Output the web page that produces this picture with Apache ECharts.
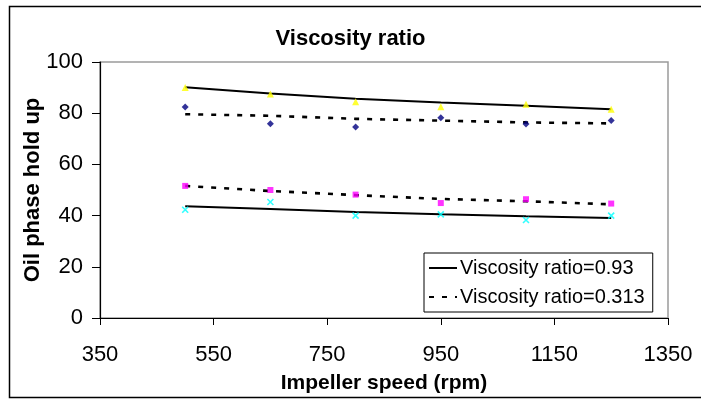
<!DOCTYPE html>
<html>
<head>
<meta charset="utf-8">
<script src="https://cdn.jsdelivr.net/npm/echarts@6/dist/echarts.min.js"></script>
<style>
  html, body { margin: 0; padding: 0; background: #fff; }
  #chart { width: 701px; height: 400px; }
</style>
</head>
<body>
<div id="chart"></div>
<script>
// impeller speeds (rpm)
const speeds = [500, 650, 800, 950, 1100, 1250];

// measured oil phase hold up
const ratio093High = [90, 87.5, 84.5, 82.5, 83.5, 81.5];   // yellow triangles
const ratio0313High = [82.4, 75.9, 74.6, 78.2, 75.8, 77.1]; // navy diamonds
const ratio0313Low = [51.6, 50.0, 48.2, 44.9, 46.4, 44.7];  // magenta squares
const ratio093Low = [42.3, 45.3, 40.0, 40.5, 38.3, 40.0];   // cyan crosses

// trend lines
const trend093High = [90.1, 87.7, 85.6, 84.2, 82.9, 81.5];
const trend0313High = [79.6, 79.0, 77.8, 77.1, 76.4, 76.0];
const trend093Low = [43.7, 42.6, 41.4, 40.5, 39.7, 39.1];
const trend0313Low = [51.6, 49.6, 48.0, 46.5, 45.6, 44.4];

const legendNames = ["Viscosity ratio=0.93", "Viscosity ratio=0.313"];
const font = "'Liberation Sans', Arial, sans-serif";

function pairs(ys) {
  return speeds.map((x, i) => [x, ys[i]]);
}

function pointSeries(ys, symbol, color, size, cross) {
  return {
    type: "scatter",
    data: pairs(ys),
    symbol: symbol,
    symbolSize: size,
    silent: true,
    z: 3,
    itemStyle: cross
      ? { color: "none", borderColor: color, borderWidth: 1.6 }
      : { color: color }
  };
}

function trendSeries(name, ys, dashed) {
  return {
    name: name,
    type: "line",
    data: pairs(ys),
    symbol: "none",
    z: 2,
    itemStyle: { color: "#000" },
    lineStyle: {
      color: "#000",
      width: dashed ? 2.6 : 2,
      type: dashed ? [5, 8] : "solid"
    }
  };
}

const chart = echarts.init(document.getElementById("chart"));
chart.setOption({
  animation: false,
  textStyle: { fontFamily: font },
  title: {
    text: "Viscosity ratio",
    left: "center",
    top: 23,
    textStyle: { fontFamily: font, fontSize: 22, fontWeight: "bold", color: "#000" }
  },
  grid: {
    left: 100,
    right: 33,
    top: 62,
    bottom: 82,
    show: true,
    borderColor: "#9a9a9a",
    borderWidth: 1.5
  },
  legend: {
    data: legendNames,
    orient: "vertical",
    left: 424,
    top: 253,
    padding: [5, 8, 5, 4],
    itemWidth: 28,
    itemHeight: 14,
    itemGap: 9,
    borderColor: "#000",
    borderWidth: 1,
    backgroundColor: "#fff",
    itemStyle: { opacity: 0 },
    lineStyle: { inactiveColor: "#000" },
    textStyle: { fontFamily: font, fontSize: 20, color: "#000", padding: [0, 0, 0, -2] }
  },
  xAxis: {
    type: "value",
    min: 350,
    max: 1350,
    interval: 200,
    name: "Impeller speed (rpm)",
    nameLocation: "middle",
    nameGap: 55,
    nameMoveOverlap: false,
    nameTextStyle: { fontFamily: font, fontSize: 21, fontWeight: "bold", color: "#000" },
    axisLine: { show: true, onZero: false, lineStyle: { color: "#000", width: 1.2 } },
    axisTick: { show: true, length: 7, lineStyle: { color: "#000" } },
    axisLabel: {
      fontFamily: font,
      fontSize: 22,
      color: "#000",
      margin: 26,
      formatter: function(val) {
        return String(val);
      }
    },
    splitLine: { show: false }
  },
  yAxis: {
    type: "value",
    min: 0,
    max: 100,
    interval: 20,
    name: "Oil phase hold up",
    nameLocation: "middle",
    nameGap: 56,
    nameMoveOverlap: false,
    nameTextStyle: { fontFamily: font, fontSize: 22, fontWeight: "bold", color: "#000" },
    axisLine: { show: true, lineStyle: { color: "#000", width: 1.2 } },
    axisTick: { show: true, length: 8, lineStyle: { color: "#000" } },
    axisLabel: { fontFamily: font, fontSize: 22, color: "#000", margin: 17 },
    splitLine: { show: false }
  },
  graphic: [
    {
      type: "rect",
      shape: { x: 9.5, y: 6.5, width: 700, height: 391 },
      style: { fill: "none", stroke: "#000", lineWidth: 1.5 },
      silent: true,
      z: -1
    }
  ],
  series: [
    trendSeries(legendNames[0], trend093High, false),
    trendSeries(legendNames[1], trend0313High, true),
    trendSeries(legendNames[0], trend093Low, false),
    trendSeries(legendNames[1], trend0313Low, true),
    pointSeries(ratio093High, "triangle", "#ffff00", 7, false),
    pointSeries(ratio0313High, "diamond", "#000080", 7, false),
    pointSeries(ratio0313Low, "rect", "#ff00ff", 6, false),
    pointSeries(ratio093Low, "path://M0,0L10,10M10,0L0,10", "#00ffff", 6, true)
  ]
});
</script>
</body>
</html>
